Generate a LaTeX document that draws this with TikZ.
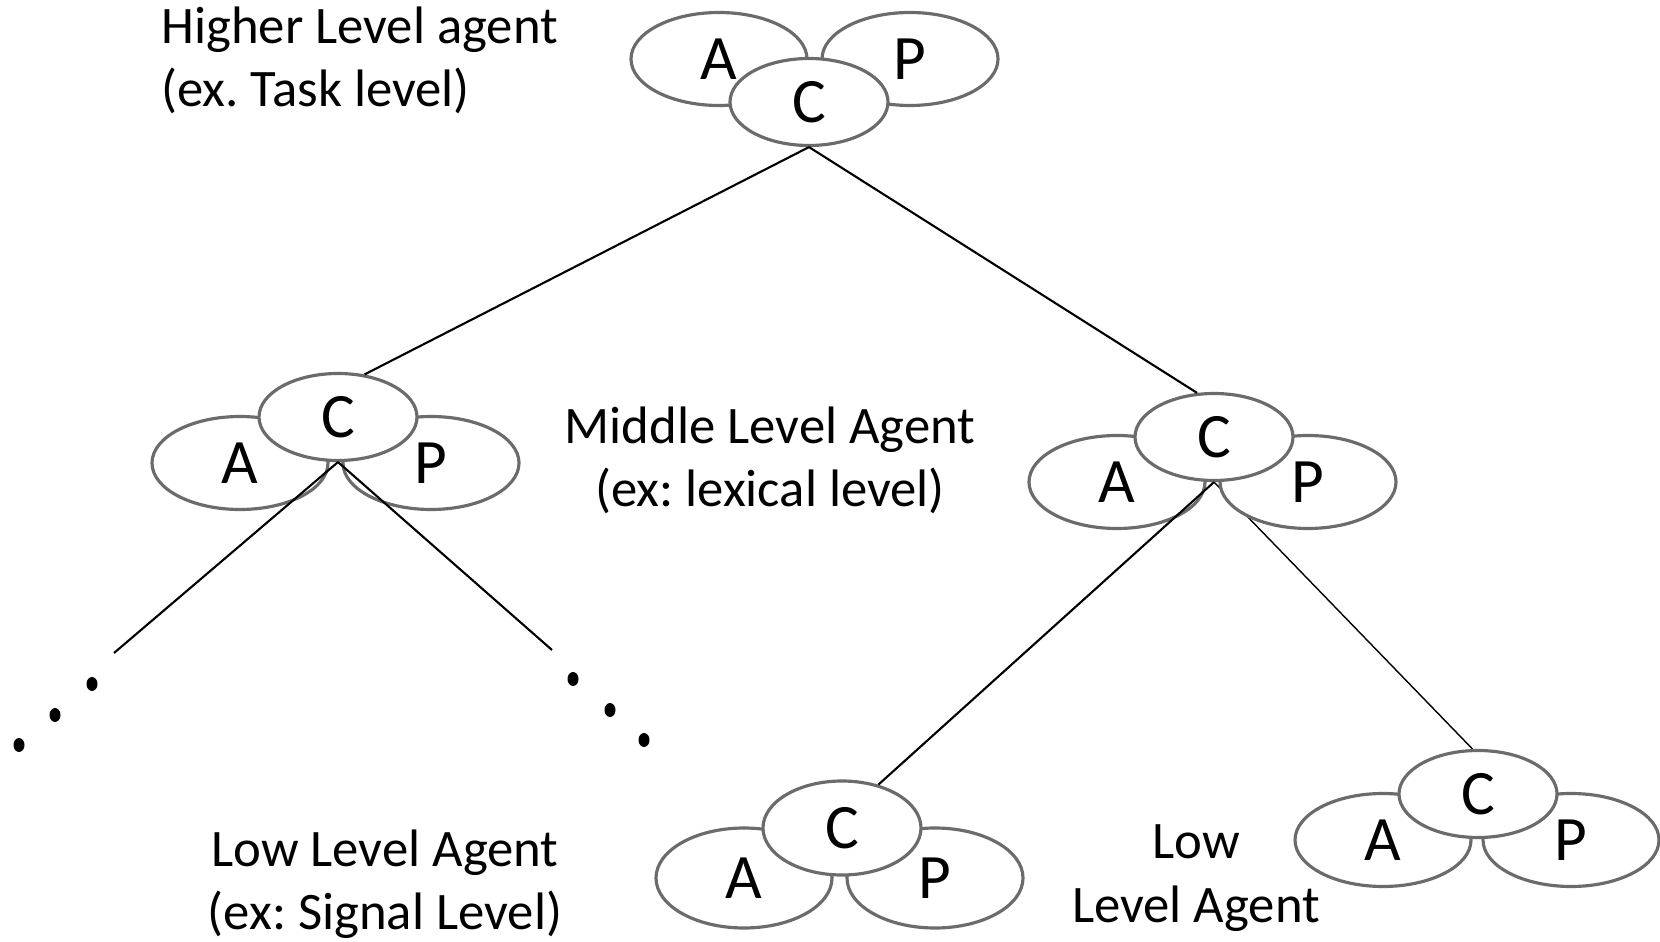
\documentclass[tikz,border=0pt]{standalone}
\usepackage{fontspec}
\setmainfont{Carlito}
\usetikzlibrary{shapes.geometric}
\pgfdeclarelayer{background}
\pgfsetlayers{background,main}
\frenchspacing

\begin{document}
\begin{tikzpicture}[
    part/.style={ellipse, draw=black!58, line width=0.9pt, fill=white, inner sep=0pt,
      minimum width=1.76cm, minimum height=0.93cm, font=\fontsize{18}{20}\selectfont},
    ctrl/.style={part, minimum width=1.58cm, minimum height=0.87cm},
    lbl/.style={font=\fontsize{15}{18}\selectfont, align=center},
    dot/.style={ellipse, fill=black, inner sep=0pt, minimum width=0.11cm, minimum height=0.14cm},
    link/.style={black, line width=0.6pt}
  ]
  \useasboundingbox (0,0) rectangle (16.6,-9.42);
  % higher level agent
  \draw
    (7.19,-0.59) node[part] (tA){A}
    (9.10,-0.59) node[part] (tP){P}
    (8.09,-1.02) node[ctrl] (tC){C};
  % middle level agents
  \draw
    (2.40,-4.63) node[part] (lA){A}
    (4.31,-4.63) node[part] (lP){P}
    (3.38,-4.17) node[ctrl] (lC){C};
  \draw
    (11.17,-4.82) node[part] (rA){A}
    (13.08,-4.82) node[part] (rP){P}
    (12.14,-4.37) node[ctrl] (rC){C};
  % low level agents
  \draw
    (7.44,-8.78) node[part, minimum height=1.0cm] (bA){A}
    (9.35,-8.78) node[part, minimum height=1.0cm] (bP){P}
    (8.42,-8.28) node[ctrl, minimum height=0.94cm] (bC){C};
  \draw
    (13.83,-8.40) node[part] (cA){A}
    (15.71,-8.40) node[part] (cP){P}
    (14.78,-7.94) node[ctrl] (cC){C};
  % texts
  \draw
    (1.49,-0.60) node[lbl, anchor=west, align=left] (t1){Higher Level agent\\(ex. Task level)}
    (7.70,-4.60) node[lbl] (t2){Middle Level Agent\\(ex: lexical level)}
    (3.85,-8.84) node[lbl] (t3){Low Level Agent\\(ex: Signal Level)}
    (11.96,-8.78) node[lbl] (t4){Low\\Level Agent};
  % dots
  \draw
    (0.92,-6.84) node[dot] (d1){}
    (0.55,-7.15) node[dot] (d2){}
    (0.19,-7.45) node[dot] (d3){}
    (5.73,-6.79) node[dot] (d4){}
    (6.10,-7.10) node[dot] (d5){}
    (6.44,-7.40) node[dot] (d6){};
  \coordinate (e1) at (1.14,-6.53);
  \coordinate (e2) at (5.52,-6.50);
  \begin{scope}[link]
    \draw (tC.south) to (lC.58);
    \draw (tC.south) to (rC.111);
    \draw (lC.south) to (e1);
    \draw (lC.south) to (e2);
    \draw (rC.south) to (bC.50);
    \begin{pgfonlayer}{background}
      \draw (rC.south) to (cC.97);
    \end{pgfonlayer}
  \end{scope}
\end{tikzpicture}
\end{document}
